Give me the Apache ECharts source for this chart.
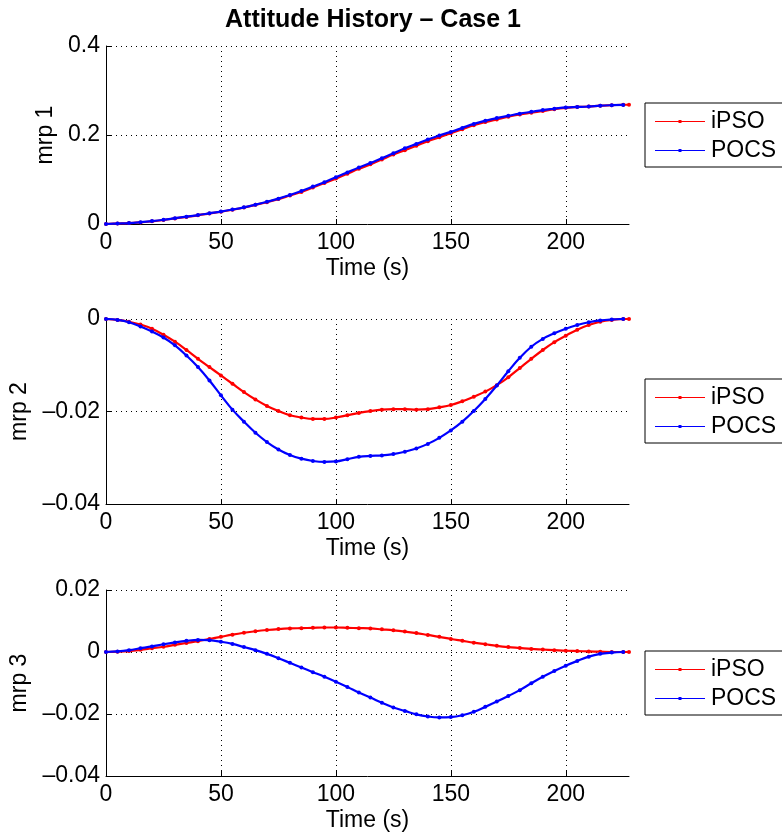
<!DOCTYPE html>
<html>
<head>
<meta charset="utf-8">
<script src="https://cdn.jsdelivr.net/npm/echarts@6/dist/echarts.min.js"></script>
<style>html,body{margin:0;padding:0;background:#fff;}#c{width:782px;height:835px;}</style>
</head>
<body>
<div id="c"></div>
<script>
const titleText = 'Attitude History \u2013 Case 1';
const xName = 'Time (s)';
const yNames = ['mrp 1', 'mrp 2', 'mrp 3'];
const seriesNames = ['iPSO', 'POCS'];

const time = [0,5,10,15,20,25,30,35,40,45,50,55,60,65,70,75,80,85,90,95,100,105,110,115,120,125,130,135,140,145,150,155,160,165,170,175,180,185,190,195,200,205,210,215,220,225,227.5];

const mrp1_iPSO = [0,0.001,0.002,0.0035,0.006,0.009,0.0125,0.016,0.0195,0.0235,0.0275,0.032,0.037,0.043,0.049,0.056,0.064,0.072,0.082,0.092,0.102,0.113,0.124,0.134,0.145,0.156,0.166,0.176,0.186,0.195,0.204,0.213,0.222,0.229,0.235,0.241,0.246,0.250,0.254,0.258,0.261,0.263,0.264,0.266,0.267,0.268,0.268];
const mrp1_POCS = [0,0.001,0.002,0.004,0.0065,0.0095,0.013,0.0165,0.020,0.024,0.028,0.0325,0.0375,0.0435,0.050,0.057,0.065,0.074,0.084,0.094,0.105,0.116,0.127,0.137,0.148,0.159,0.170,0.180,0.190,0.199,0.207,0.216,0.225,0.232,0.238,0.243,0.248,0.252,0.256,0.259,0.262,0.263,0.264,0.266,0.267,0.2675,null];

const mrp2_iPSO = [0,-0.0002,-0.0006,-0.0012,-0.0021,-0.0034,-0.0049,-0.0067,-0.0086,-0.0104,-0.0122,-0.014,-0.0158,-0.0174,-0.0188,-0.0199,-0.0208,-0.0213,-0.0216,-0.0216,-0.0213,-0.0208,-0.0203,-0.0199,-0.0196,-0.0195,-0.0195,-0.0196,-0.0195,-0.0191,-0.0186,-0.0178,-0.0168,-0.0157,-0.0143,-0.0126,-0.0106,-0.0086,-0.0067,-0.005,-0.0036,-0.0023,-0.0013,-0.0006,-0.0002,0,0];
const mrp2_POCS = [0,-0.0002,-0.0007,-0.0016,-0.0027,-0.004,-0.0057,-0.0079,-0.0104,-0.0133,-0.0165,-0.0196,-0.0222,-0.0246,-0.0266,-0.0282,-0.0294,-0.0302,-0.0307,-0.0309,-0.0308,-0.0303,-0.0298,-0.0296,-0.0295,-0.0292,-0.0287,-0.028,-0.027,-0.0257,-0.0241,-0.0222,-0.0199,-0.0173,-0.0144,-0.0113,-0.0084,-0.006,-0.0043,-0.0031,-0.0021,-0.0013,-0.0007,-0.0003,-0.0001,0,null];

const mrp3_iPSO = [0,0.0001,0.0003,0.0007,0.0012,0.0017,0.0023,0.0029,0.0035,0.0042,0.0049,0.0056,0.0062,0.0067,0.0071,0.0074,0.0076,0.0077,0.0078,0.0079,0.0079,0.0078,0.0077,0.0076,0.0073,0.007,0.0066,0.0061,0.0055,0.0049,0.0042,0.0036,0.003,0.0025,0.002,0.0016,0.0013,0.001,0.0008,0.0006,0.0004,0.0003,0.0002,0.0001,0,0,0];
const mrp3_POCS = [0,0.0002,0.0006,0.0012,0.0018,0.0025,0.0031,0.0036,0.0039,0.0038,0.0033,0.0026,0.0016,0.0006,-0.0006,-0.002,-0.0035,-0.005,-0.0065,-0.008,-0.0096,-0.0113,-0.0131,-0.0147,-0.0164,-0.0179,-0.019,-0.0201,-0.0208,-0.0211,-0.021,-0.0204,-0.0193,-0.0177,-0.016,-0.0142,-0.0123,-0.0101,-0.008,-0.0061,-0.0044,-0.0029,-0.0015,-0.0006,-0.0002,0,null];

const panels = [
  {iPSO: mrp1_iPSO, POCS: mrp1_POCS, min: 0, max: 0.4, interval: 0.2},
  {iPSO: mrp2_iPSO, POCS: mrp2_POCS, min: -0.04, max: 0, interval: 0.02},
  {iPSO: mrp3_iPSO, POCS: mrp3_POCS, min: -0.04, max: 0.02, interval: 0.02}
];
const xMin = 0, xMax = 227.5, xInterval = 50;

const FONT = "'Liberation Sans', Arial, Helvetica, sans-serif";
const FS = 23;
const grids = [
  {left: 106, top: 46, width: 523, height: 178},
  {left: 106, top: 319, width: 523, height: 185},
  {left: 106, top: 590, width: 523, height: 186}
];
const yNameGaps = [45, 74, 74];
const legendTops = [103, 379, 651];
const colors = {iPSO: '#ff0000', POCS: '#0000ff'};
const iconPath = 'path://M0,1.5 L50,1.5 L50,2.5 L0,2.5 Z M23.5,0.5 L26.5,0.5 L26.5,3.5 L23.5,3.5 Z';

function fmt(v) {
  const s = String(Math.round(v * 1e6) / 1e6);
  return s.replace('-', '\u2013');
}

const option = {
  animation: false,
  backgroundColor: '#fff',
  textStyle: {fontFamily: FONT},
  title: {
    text: titleText, left: 368, top: 3, textAlign: 'center',
    textStyle: {fontFamily: FONT, fontSize: 25, fontWeight: 'bold', color: '#000'}
  },
  grid: grids,
  xAxis: grids.map((g, i) => ({
    type: 'value', gridIndex: i, min: xMin, max: xMax, interval: xInterval,
    name: xName, nameLocation: 'middle', nameGap: 33,
    nameTextStyle: {fontFamily: FONT, fontSize: FS, color: '#000'},
    axisLine: {onZero: false, lineStyle: {color: '#000', width: 1}},
    axisTick: {inside: true, length: 5, lineStyle: {color: '#000'}},
    axisLabel: {margin: 7, fontFamily: FONT, fontSize: FS, color: '#000', formatter: fmt, showMaxLabel: false},
    splitLine: {show: true, showMaxLine: false, lineStyle: {color: '#000', type: [1, 4], width: 1}}
  })),
  yAxis: panels.map((p, i) => ({
    type: 'value', gridIndex: i, min: p.min, max: p.max, interval: p.interval,
    name: yNames[i], nameLocation: 'middle', nameGap: yNameGaps[i], nameRotate: 90,
    nameTextStyle: {fontFamily: FONT, fontSize: FS, color: '#000'},
    axisLine: {show: true, onZero: false, lineStyle: {color: '#000', width: 1}},
    axisTick: {show: true, inside: true, length: 5, lineStyle: {color: '#000'}},
    axisLabel: {margin: 6, fontFamily: FONT, fontSize: FS, color: '#000', formatter: fmt},
    splitLine: {show: true, lineStyle: {color: '#000', type: [1, 4], width: 1}}
  })),
  legend: legendTops.map(t => ({
    data: seriesNames.map(n => ({name: n, icon: iconPath})),
    orient: 'vertical', left: 645, top: t,
    padding: [7, 10, 5, 10], itemGap: 6, itemWidth: 50, itemHeight: 3,
    backgroundColor: '#fff', borderColor: '#000', borderWidth: 1, borderRadius: 0,
    selectedMode: false,
    textStyle: {fontFamily: FONT, fontSize: FS, color: '#000', padding: [0, 0, 0, 1]}
  })),
  series: []
};

panels.forEach((p, i) => {
  seriesNames.forEach(n => {
    option.series.push({
      name: n, type: 'line', xAxisIndex: i, yAxisIndex: i,
      data: time.map((t, k) => [t, p[n][k]]),
      smooth: 0.4,
      symbol: 'circle', symbolSize: 4, showSymbol: true, showAllSymbol: true,
      color: colors[n],
      itemStyle: {color: colors[n]},
      lineStyle: {color: colors[n], width: 2.2},
      z: n === 'POCS' ? 3 : 2
    });
  });
});

const chart = echarts.init(document.getElementById('c'), null, {renderer: 'canvas'});
chart.setOption(option);
</script>
</body>
</html>
